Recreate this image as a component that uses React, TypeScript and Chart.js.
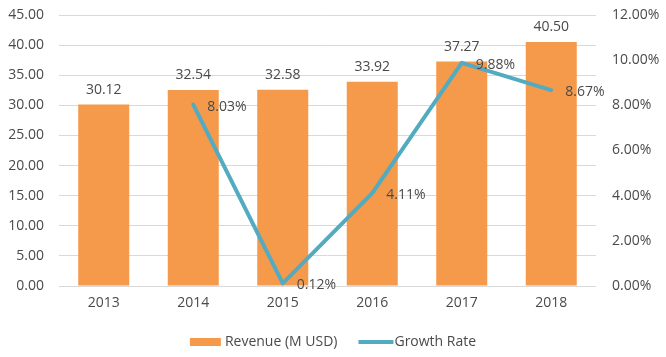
import React, { useEffect, useRef } from "react";
import { Chart, registerables } from "chart.js";

Chart.register(...registerables);

const years = ["2013", "2014", "2015", "2016", "2017", "2018"];
const revenue = [30.12, 32.54, 32.58, 33.92, 37.27, 40.5];
const growth: (number | null)[] = [null, 8.03, 0.12, 4.11, 9.88, 8.67];
const revenueLabel = "Revenue (M USD)";
const growthLabel = "Growth Rate";

const BAR_COLOR = "#F5994B";
const LINE_COLOR = "#52ABC0";
const TEXT_COLOR = "#4A4A4A";
const FONT_FAMILY = "'Open Sans', sans-serif";
const FONT_SIZE = 14;

const labelsPlugin = {
  id: "customLabels",
  afterDatasetsDraw(chart: any) {
    const ctx = chart.ctx;
    ctx.save();
    ctx.font = `${FONT_SIZE}px ${FONT_FAMILY}`;
    ctx.fillStyle = TEXT_COLOR;
    const barMeta = chart.getDatasetMeta(0);
    barMeta.data.forEach((el: any, i: number) => {
      ctx.textAlign = "center";
      ctx.textBaseline = "middle";
      ctx.fillText(revenue[i].toFixed(2), el.x, el.y - 15);
    });
    const lineMeta = chart.getDatasetMeta(1);
    lineMeta.data.forEach((el: any, i: number) => {
      const v = growth[i];
      if (v === null || v === undefined) return;
      ctx.textAlign = "left";
      ctx.textBaseline = "middle";
      ctx.fillText(v.toFixed(2) + "%", el.x + 14, el.y + 2);
    });
    ctx.restore();
  },
  afterDraw(chart: any) {
    const ctx = chart.ctx;
    ctx.save();
    ctx.font = `${FONT_SIZE}px ${FONT_FAMILY}`;
    ctx.fillStyle = TEXT_COLOR;
    ctx.textBaseline = "middle";
    ctx.textAlign = "left";
    const y = 342;
    const w1 = ctx.measureText(revenueLabel).width;
    const w2 = ctx.measureText(growthLabel).width;
    const total = 31 + 4 + w1 + 21 + 35 + 1 + w2;
    let x = (chart.width - total) / 2;
    ctx.fillStyle = BAR_COLOR;
    ctx.fillRect(x, y - 4, 31, 8);
    x += 35;
    ctx.fillStyle = TEXT_COLOR;
    ctx.fillText(revenueLabel, x, y);
    x += w1 + 21;
    ctx.strokeStyle = LINE_COLOR;
    ctx.lineWidth = 4;
    ctx.beginPath();
    ctx.moveTo(x, y);
    ctx.lineTo(x + 35, y);
    ctx.stroke();
    x += 36;
    ctx.fillText(growthLabel, x, y);
    ctx.restore();
  },
};

export default function App() {
  const ref = useRef<HTMLCanvasElement | null>(null);
  useEffect(() => {
    if (!ref.current) return;
    const chart = new Chart(ref.current, {
      type: "bar",
      data: {
        labels: years,
        datasets: [
          {
            type: "bar",
            label: revenueLabel,
            data: revenue,
            backgroundColor: BAR_COLOR,
            categoryPercentage: 1,
            barPercentage: 0.57,
            yAxisID: "y",
            order: 1,
          },
          {
            type: "line",
            label: growthLabel,
            data: growth,
            borderColor: LINE_COLOR,
            backgroundColor: LINE_COLOR,
            borderWidth: 4,
            pointRadius: 0,
            borderJoinStyle: "round",
            borderCapStyle: "round",
            yAxisID: "y1",
            order: 0,
          },
        ],
      },
      options: {
        animation: false,
        responsive: false,
        maintainAspectRatio: false,
        layout: { padding: { top: 15, bottom: 0, left: 0, right: 0 } },
        plugins: { legend: { display: false }, tooltip: { enabled: false } },
        scales: {
          x: {
            grid: { display: false, drawTicks: false },
            border: { display: false },
            ticks: {
              color: TEXT_COLOR,
              font: { family: FONT_FAMILY, size: FONT_SIZE },
              padding: 9,
            },
            afterFit: (s: any) => {
              s.height = 71;
              s.paddingLeft = 0;
              s.paddingRight = 0;
            },
          },
          y: {
            position: "left",
            min: 0,
            max: 45,
            grid: { color: "#D9D9D9", lineWidth: 1, drawTicks: false },
            border: { display: false },
            ticks: {
              stepSize: 5,
              color: TEXT_COLOR,
              font: { family: FONT_FAMILY, size: FONT_SIZE },
              padding: 15,
              callback: (v: any) => Number(v).toFixed(2),
            },
            afterFit: (s: any) => {
              s.width = 59;
              s.paddingTop = 0;
              s.paddingBottom = 0;
            },
          },
          y1: {
            position: "right",
            min: 0,
            max: 12,
            grid: { display: false, drawTicks: false },
            border: { display: false },
            ticks: {
              stepSize: 2,
              color: TEXT_COLOR,
              font: { family: FONT_FAMILY, size: FONT_SIZE },
              padding: 16,
              callback: (v: any) => Number(v).toFixed(2) + "%",
            },
            afterFit: (s: any) => {
              s.width = 70;
              s.paddingTop = 0;
              s.paddingBottom = 0;
            },
          },
        },
      },
      plugins: [labelsPlugin],
    });
    return () => chart.destroy();
  }, []);
  return (
    <div style={{ position: "fixed", left: 0, top: 0, width: 666, height: 357, background: "#fff" }}>
      <canvas ref={ref} width={666} height={357} style={{ display: "block", width: 666, height: 357 }} />
    </div>
  );
}
